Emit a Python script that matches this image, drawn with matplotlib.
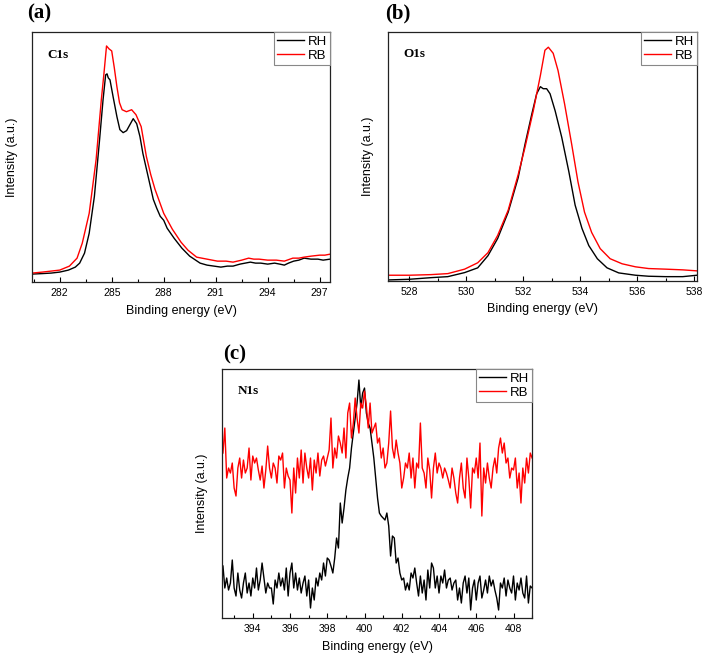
import numpy as np
import matplotlib
matplotlib.use("Agg")
import matplotlib.pyplot as plt
from matplotlib.ticker import MultipleLocator

plt.rcParams['font.family'] = ['Liberation Sans', 'DejaVu Sans']

# C1s spectra (intensity in arbitrary units)
c1s_rh_e = [280.4, 281.0, 281.5, 282.0, 282.5, 282.9, 283.15, 283.43, 283.7, 284.0,
            284.3, 284.5, 284.65, 284.73, 284.8, 284.9, 285.08, 285.3, 285.47, 285.66,
            285.86, 286.05, 286.24, 286.44, 286.63, 286.8, 287.1, 287.4, 287.6, 287.8,
            288.0, 288.2, 288.6, 289.05, 289.5, 290.1, 290.5, 290.9, 291.3, 291.67,
            292.0, 292.4, 292.7, 293.0, 293.3, 293.6, 294.0, 294.4, 294.7, 294.96,
            295.2, 295.5, 295.8, 296.1, 296.5, 296.9, 297.2, 297.6]
c1s_rh_i = [8, 8.5, 9, 10, 12, 15, 19, 29, 49, 86,
            143, 183, 208, 209, 205, 203, 186, 166, 153, 150,
            152, 158, 164, 159, 146, 129, 106, 83, 74, 66,
            62, 54, 44, 34, 26, 19, 17, 16, 15, 16,
            16, 18, 19, 20, 19, 19, 18, 19, 18, 17,
            19, 21, 22, 24, 23, 23, 22, 23]
c1s_rb_e = [280.4, 281.0, 281.5, 282.0, 282.56, 283.0, 283.3, 283.7, 284.1, 284.4,
            284.55, 284.7, 284.85, 285.0, 285.15, 285.3, 285.45, 285.6, 285.85, 286.15,
            286.4, 286.7, 287.0, 287.25, 287.5, 288.0, 288.5, 289.0, 289.4, 289.9,
            290.5, 291.1, 291.6, 292.0, 292.5, 292.9, 293.2, 293.5, 294.0, 294.5,
            294.96, 295.45, 295.8, 296.1, 296.5, 297.0, 297.3, 297.6]
c1s_rb_i = [9, 10, 11, 12, 16, 24, 39, 69, 123, 183,
            209, 237, 234, 232, 215, 196, 180, 173, 171, 173,
            168, 156, 126, 108, 93, 69, 53, 40, 32, 25,
            23, 21, 21, 20, 22, 24, 23, 23, 22, 22,
            21, 24, 24, 25, 26, 27, 27, 28]

# O1s spectra
o1s_rh_e = [527.2, 528.0, 528.76, 529.35, 529.94, 530.4, 530.76, 531.1, 531.47, 531.82,
            532.06, 532.3, 532.47, 532.6, 532.7, 532.82, 532.94, 533.12, 533.35, 533.6,
            533.82, 534.06, 534.3, 534.6, 534.94, 535.35, 535.94, 536.4, 537.0, 537.6, 538.1]
o1s_rh_i = [1, 1.7, 3.3, 4.3, 8.3, 13, 25, 42, 68, 102,
            135, 165, 185, 192, 190, 190, 185, 168, 142, 108,
            75, 52, 35, 22, 13, 8, 5.7, 4.7, 4.3, 4.3, 5.7]
o1s_rb_e = [527.2, 528.0, 528.76, 529.35, 529.94, 530.4, 530.76, 531.1, 531.47, 531.82,
            532.06, 532.35, 532.6, 532.76, 532.88, 533.05, 533.22, 533.45, 533.7, 533.92,
            534.15, 534.4, 534.7, 535.05, 535.47, 535.94, 536.4, 537.0, 537.6, 538.1]
o1s_rb_i = [5.7, 5.7, 6.3, 7.3, 11.7, 18, 28, 45, 70, 105,
            132, 168, 203, 228, 231, 225, 208, 175, 135, 98,
            68, 48, 32, 22, 17, 14, 12.3, 11.7, 11, 10]

# N1s spectra, 0.1 eV step from 392.4 eV
n1s_start = 392.4
n1s_step = 0.1
n1s_rh_i = [52, 30, 40, 28, 35, 58, 30,
            22, 45, 28, 20, 35, 45, 25, 35, 22, 40,
            30, 50, 28, 38, 55, 40, 25, 35, 30, 30,
            14, 38, 30, 45, 32, 40, 28, 50, 22, 45,
            55, 30, 45, 28, 40, 25, 35, 42, 22, 38,
            10, 30, 18, 40, 32, 45, 38, 55, 42, 60,
            58, 52, 45, 60, 80, 70, 115, 95, 110, 128,
            140, 150, 170, 185, 200, 215, 238, 210, 225, 230,
            205, 195, 190, 175, 160, 140, 120, 105, 102, 100,
            98, 105, 92, 62, 82, 80, 55, 60, 45, 38,
            40, 28, 35, 28, 45, 40, 50, 35, 22, 42,
            25, 38, 18, 48, 30, 55, 50, 30, 42, 25,
            42, 35, 48, 30, 38, 40, 28, 35, 38, 18,
            30, 15, 35, 42, 25, 40, 8, 30, 38, 18,
            35, 42, 20, 28, 38, 25, 42, 32, 38, 28,
            20, 8, 35, 30, 40, 22, 38, 30, 25, 42,
            18, 35, 28, 40, 25, 20, 42, 15, 32, 30]
n1s_rb_i = [165, 190, 140, 150, 145, 155, 130,
            122, 150, 160, 140, 158, 145, 150, 170, 138, 162,
            155, 160, 148, 138, 152, 130, 148, 172, 150, 140,
            155, 150, 135, 162, 158, 165, 130, 150, 142, 138,
            105, 150, 125, 160, 140, 168, 135, 165, 150, 140,
            160, 128, 158, 145, 165, 142, 158, 162, 152, 160,
            168, 200, 150, 170, 160, 182, 175, 165, 190, 160,
            205, 215, 180, 195, 220, 200, 185, 215, 210, 227,
            212, 190, 215, 185, 190, 195, 175, 180, 160, 170,
            150, 155, 175, 207, 170, 160, 178, 165, 155, 130,
            140, 155, 150, 165, 140, 160, 130, 155, 150, 195,
            150, 145, 130, 160, 148, 120, 150, 165, 145, 155,
            150, 140, 150, 145, 138, 130, 150, 140, 125, 115,
            140, 155, 130, 120, 160, 140, 110, 150, 145, 160,
            140, 175, 102, 150, 135, 155, 140, 130, 150, 160,
            145, 170, 180, 165, 175, 155, 160, 140, 150, 148,
            160, 130, 145, 115, 150, 135, 160, 145, 165, 160]
n1s_e = np.round(n1s_start + n1s_step * np.arange(len(n1s_rh_i)), 2)

W, H = 708, 659
fig = plt.figure(figsize=(W / 100, H / 100), dpi=100)

panels = [
    # rect, letter position (px), letter, peak, RH, RB, xlim, ylim, major, minor
    ([0.0452, 0.572, 0.421, 0.3794], (27, 13), '(a)', 'C1s',
     (c1s_rh_e, c1s_rh_i), (c1s_rb_e, c1s_rb_i), (280.4, 297.6), (0, 251), 3, 1.5),
    ([0.548, 0.5736, 0.4365, 0.3778], (385, 13), '(b)', 'O1s',
     (o1s_rh_e, o1s_rh_i), (o1s_rb_e, o1s_rb_i), (527.25, 538.1), (0, 246), 2, 1),
    ([0.3136, 0.0622, 0.438, 0.3778], (223, 354), '(c)', 'N1s',
     (n1s_e, n1s_rh_i), (n1s_e, n1s_rb_i), (392.35, 409.0), (0, 249), 2, 1),
]

for rect, lpos, letter, peak, rh, rb, xlim, ylim, major, minor in panels:
    ax = fig.add_axes(rect)
    ax.plot(rh[0], rh[1], color='black', lw=1.0, label='RH')
    ax.plot(rb[0], rb[1], color='red', lw=1.0, label='RB')
    ax.set_xlim(*xlim)
    ax.set_ylim(*ylim)
    ax.set_yticks([])
    ax.xaxis.set_major_locator(MultipleLocator(major))
    ax.xaxis.set_minor_locator(MultipleLocator(minor))
    ax.tick_params(axis='x', which='major', direction='in', length=3.5, width=0.8,
                   labelsize=7.5, pad=4)
    ax.tick_params(axis='x', which='minor', direction='in', length=2.5, width=0.8)
    for sp in ax.spines.values():
        sp.set_linewidth(0.9)
        sp.set_color('#222222')
    ax.set_xlabel('Binding energy (eV)', fontsize=9, labelpad=5)
    ax.set_ylabel('Intensity (a.u.)', fontsize=9, labelpad=10)
    ax.text(0.05, 0.91, peak, transform=ax.transAxes, fontsize=9.5, fontweight='bold',
            family='Liberation Serif', va='center')
    fig.text(lpos[0] / W, 1 - lpos[1] / H, letter, fontsize=15, fontweight='bold',
             family='Liberation Serif', va='center', ha='left')
    leg = ax.legend(loc='upper right', borderaxespad=0, fontsize=9.5, fancybox=False,
                    framealpha=1, edgecolor='#888888', handlelength=2.0,
                    labelspacing=0.15, borderpad=0.25, handletextpad=0.3)
    leg.get_frame().set_linewidth(0.8)

fig.savefig('out.png', dpi=100)
